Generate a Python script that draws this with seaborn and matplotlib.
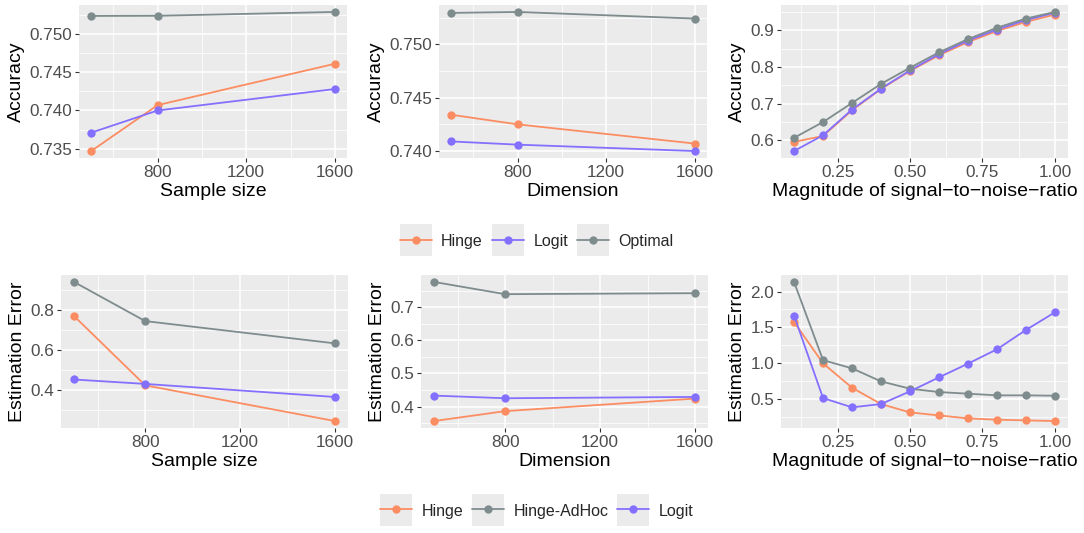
import numpy as np
import pandas as pd
import matplotlib
matplotlib.use("Agg")
import matplotlib.pyplot as plt
import seaborn as sns
from matplotlib.lines import Line2D
from matplotlib.patches import Rectangle
from matplotlib.legend_handler import HandlerLine2D
from matplotlib.ticker import AutoMinorLocator, FixedLocator, FormatStrFormatter

# data
sizes = [500, 800, 1600]
snr = [0.1, 0.2, 0.3, 0.4, 0.5, 0.6, 0.7, 0.8, 0.9, 1.0]

acc_n_hinge = [0.7347, 0.7407, 0.7461]
acc_n_logit = [0.7371, 0.7400, 0.7428]
acc_n_opt = [0.75235, 0.75237, 0.75287]

acc_p_hinge = [0.7434, 0.7425, 0.7407]
acc_p_logit = [0.7409, 0.7406, 0.7400]
acc_p_opt = [0.75294, 0.75303, 0.75241]

acc_s_hinge = [0.596, 0.612, 0.682, 0.740, 0.789, 0.832, 0.868, 0.898, 0.923, 0.943]
acc_s_logit = [0.571, 0.614, 0.684, 0.741, 0.791, 0.835, 0.872, 0.902, 0.928, 0.948]
acc_s_opt = [0.607, 0.650, 0.702, 0.754, 0.798, 0.840, 0.876, 0.907, 0.932, 0.950]

err_n_hinge = [0.768, 0.423, 0.245]
err_n_adhoc = [0.938, 0.743, 0.632]
err_n_logit = [0.452, 0.430, 0.365]

err_p_hinge = [0.356, 0.386, 0.424]
err_p_adhoc = [0.777, 0.740, 0.743]
err_p_logit = [0.433, 0.425, 0.429]

err_s_hinge = [1.575, 0.995, 0.654, 0.425, 0.308, 0.266, 0.224, 0.206, 0.196, 0.187]
err_s_adhoc = [2.135, 1.040, 0.925, 0.743, 0.640, 0.593, 0.570, 0.547, 0.547, 0.542]
err_s_logit = [1.664, 0.509, 0.379, 0.425, 0.603, 0.799, 0.991, 1.192, 1.463, 1.710]

colors = {"Hinge": "#FC8D62", "Logit": "#8470FF", "Optimal": "#7F8C8D",
          "Hinge-AdHoc": "#7F8C8D"}

sns.set_theme(style="darkgrid", rc={
    "axes.facecolor": "#EBEBEB",
    "grid.color": "white",
    "xtick.color": "#333333",
    "ytick.color": "#333333",
    "xtick.labelcolor": "#4D4D4D",
    "ytick.labelcolor": "#4D4D4D",
})
plt.rcParams["font.family"] = ["Liberation Sans", "DejaVu Sans"]


def long_df(x, series):
    rows = []
    for name, vals in series.items():
        for xi, yi in zip(x, vals):
            rows.append({"x": xi, "y": yi, "method": name})
    return pd.DataFrame(rows)


fig = plt.figure(figsize=(10.84, 5.33), dpi=100)
W, H = 1084, 533


def make_ax(l, r, t, b):
    return fig.add_axes([l / W, 1 - b / H, (r - l) / W, (b - t) / H])


panels = [
    (make_ax(79, 347, 5, 158), sizes, {"Hinge": acc_n_hinge, "Logit": acc_n_logit, "Optimal": acc_n_opt},
     "Sample size", "Accuracy", [800, 1200, 1600], [0.735, 0.740, 0.745, 0.750], "%.3f", "%d"),
    (make_ax(439, 707, 5, 158), sizes, {"Hinge": acc_p_hinge, "Logit": acc_p_logit, "Optimal": acc_p_opt},
     "Dimension", "Accuracy", [800, 1200, 1600], [0.740, 0.745, 0.750], "%.3f", "%d"),
    (make_ax(781, 1068, 5, 158), snr, {"Hinge": acc_s_hinge, "Logit": acc_s_logit, "Optimal": acc_s_opt},
     "Magnitude of signal\u2212to\u2212noise\u2212ratio", "Accuracy", [0.25, 0.5, 0.75, 1.0], [0.6, 0.7, 0.8, 0.9], "%.1f", "%.2f"),
    (make_ax(61, 348, 275, 428), sizes, {"Hinge": err_n_hinge, "Hinge-AdHoc": err_n_adhoc, "Logit": err_n_logit},
     "Sample size", "Estimation Error", [800, 1200, 1600], [0.4, 0.6, 0.8], "%.1f", "%d"),
    (make_ax(421, 708, 275, 428), sizes, {"Hinge": err_p_hinge, "Hinge-AdHoc": err_p_adhoc, "Logit": err_p_logit},
     "Dimension", "Estimation Error", [800, 1200, 1600], [0.4, 0.5, 0.6, 0.7], "%.1f", "%d"),
    (make_ax(781, 1068, 275, 428), snr, {"Hinge": err_s_hinge, "Hinge-AdHoc": err_s_adhoc, "Logit": err_s_logit},
     "Magnitude of signal\u2212to\u2212noise\u2212ratio", "Estimation Error", [0.25, 0.5, 0.75, 1.0], [0.5, 1.0, 1.5, 2.0], "%.1f", "%.2f"),
]

for ax, x, series, xlab, ylab, xt, yt, yfmt, xfmt in panels:
    df = long_df(x, series)
    sns.lineplot(data=df, x="x", y="y", hue="method", palette=colors, marker="o",
                 markersize=6, markeredgewidth=0, linewidth=1.3, ax=ax, legend=False)
    ax.margins(x=0.05, y=0.05)
    ax.xaxis.set_major_locator(FixedLocator(xt))
    ax.yaxis.set_major_locator(FixedLocator(yt))
    ax.xaxis.set_major_formatter(FormatStrFormatter(xfmt))
    ax.yaxis.set_major_formatter(FormatStrFormatter(yfmt))
    ax.xaxis.set_minor_locator(AutoMinorLocator(2))
    ax.yaxis.set_minor_locator(AutoMinorLocator(2))
    ax.grid(which="major", color="white", linewidth=1.1)
    ax.grid(which="minor", color="white", linewidth=0.55)
    for s in ax.spines.values():
        s.set_visible(False)
    ax.tick_params(which="major", length=3, width=0.8, labelsize=12.3, pad=2)
    ax.tick_params(which="minor", length=0)
    ax.tick_params(axis="x", bottom=True)
    ax.tick_params(axis="y", left=True)
    ax.set_xlabel(xlab, fontsize=14, color="black", labelpad=2)
    ax.set_ylabel(ylab, fontsize=14, color="black", labelpad=3)


class BoxedLine(HandlerLine2D):
    def create_artists(self, legend, orig_handle, xdescent, ydescent, width, height, fontsize, trans):
        cy = -ydescent + height / 2
        rect = Rectangle((-xdescent, cy - width / 2), width, width, facecolor="#EBEBEB",
                         edgecolor="none", transform=trans)
        arts = super().create_artists(legend, orig_handle, xdescent, ydescent, width, height, fontsize, trans)
        return [rect] + list(arts)


def add_legend(names, ycenter):
    handles = [Line2D([0], [0], color=colors[n], marker="o", markersize=6, markeredgewidth=0, linewidth=1.3)
               for n in names]
    fig.legend(handles, names, loc="center", bbox_to_anchor=(0.495, 1 - ycenter / H), ncol=len(names),
               frameon=False, fontsize=11.5, handlelength=2.0, handleheight=1.0, handletextpad=0.6,
               columnspacing=0.55, numpoints=1, handler_map={Line2D: BoxedLine()})


add_legend(["Hinge", "Logit", "Optimal"], 241)
add_legend(["Hinge", "Hinge-AdHoc", "Logit"], 511)

fig.savefig("out.png", dpi=100)
